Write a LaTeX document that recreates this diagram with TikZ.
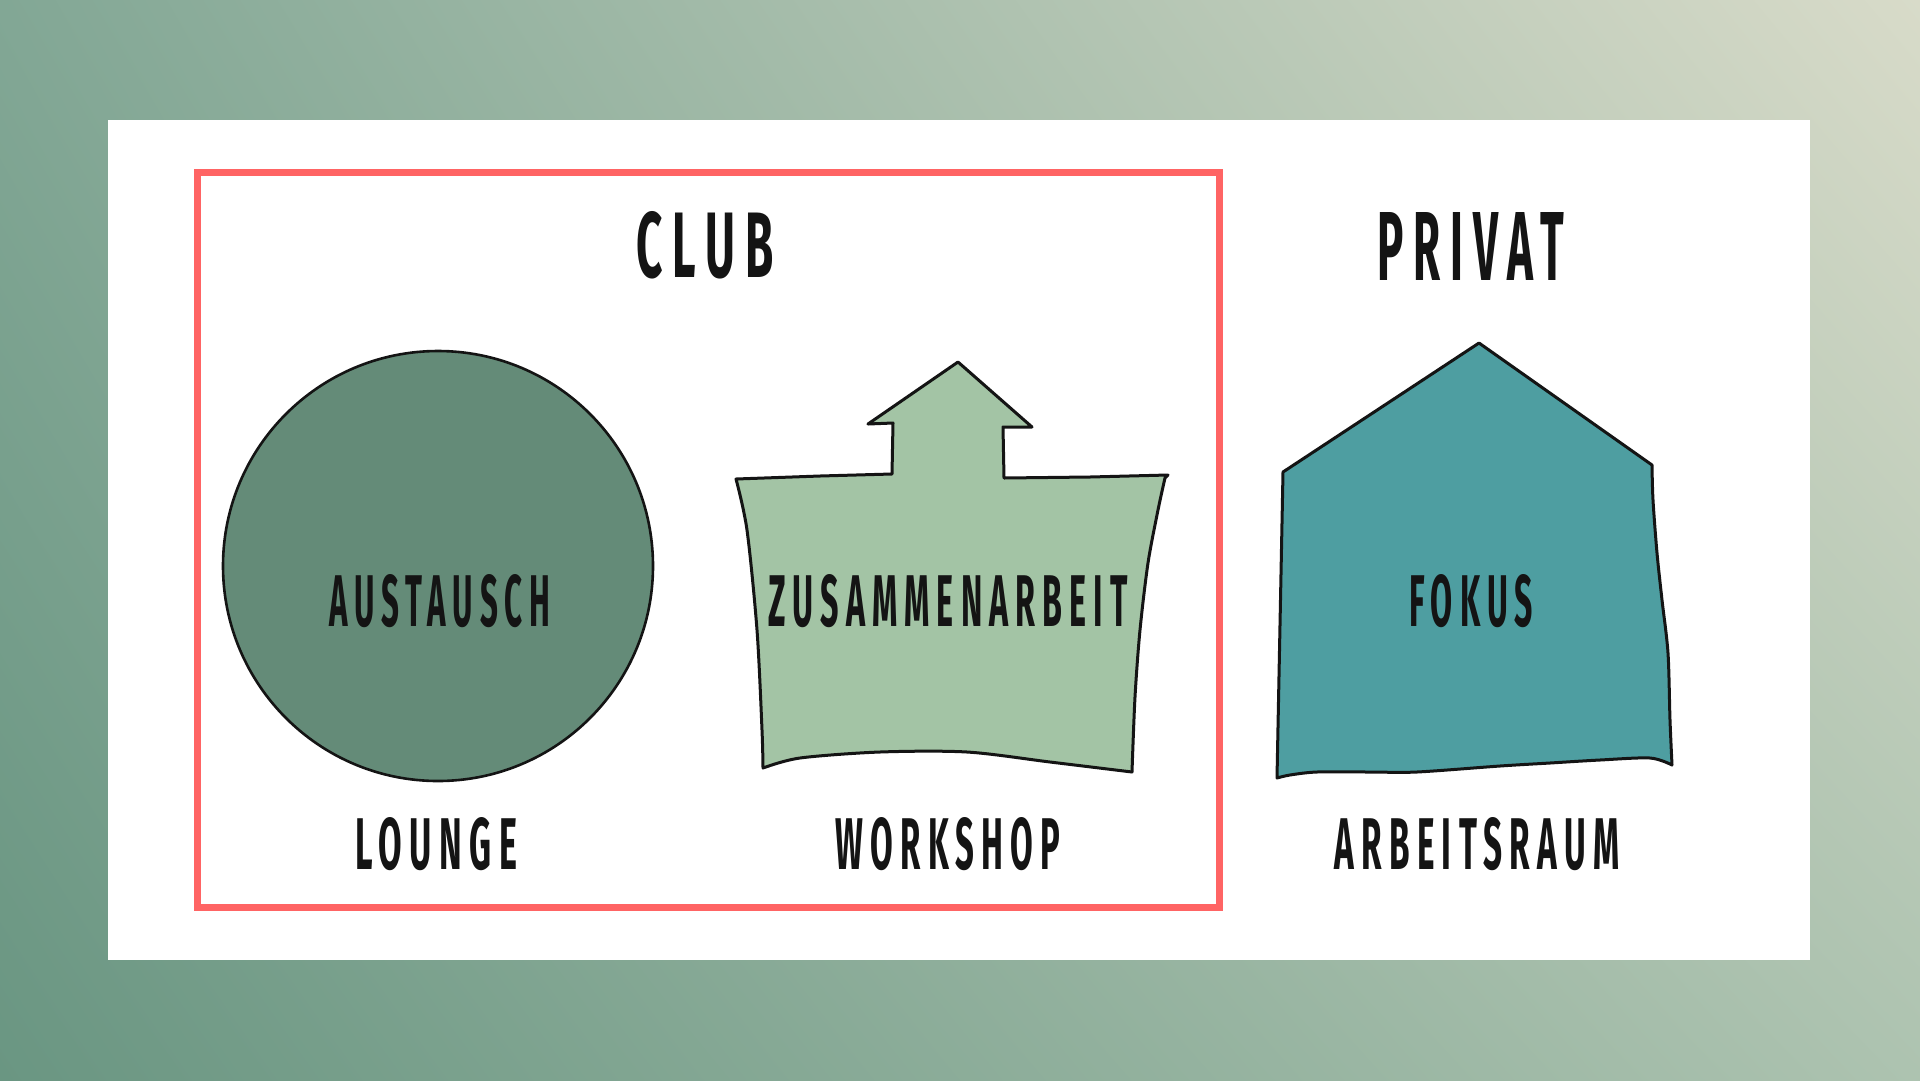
\documentclass[tikz,border=0pt]{standalone}
\usepackage{fontspec}
\usepackage{graphicx}
\usetikzlibrary{shadings}
\setmainfont{Fira Sans}
\newfontfamily\handfont{Fira Sans}[LetterSpace=22]
\definecolor{bgTL}{HTML}{82A795}
\definecolor{bgTR}{HTML}{D8DBC9}
\definecolor{bgBL}{HTML}{6A9682}
\definecolor{bgBR}{HTML}{ADC3B0}
\definecolor{clubred}{HTML}{FF6464}
\definecolor{loungefill}{HTML}{648B78}
\definecolor{workfill}{HTML}{A3C4A5}
\definecolor{fokusfill}{HTML}{4E9EA1}
\definecolor{ink}{HTML}{141414}
\newcommand{\hw}[3]{\resizebox{#1pt}{#2pt}{\handfont\bfseries #3}}
\tikzset{
  txt/.style={inner sep=0pt, outer sep=0pt, text=ink},
  shapeline/.style={draw=ink, line width=3pt, line join=round, line cap=round},
}
\begin{document}
\begin{tikzpicture}[x=1pt,y=-1pt]
\useasboundingbox (0,0) rectangle (1920,1080);
% background
\shade[upper left=bgTL, upper right=bgTR, lower left=bgBL, lower right=bgBR] (0,0) rectangle (1920,1080);
% white panel
\fill[white] (108,120) rectangle (1810,960);
% club frame
\node[draw=clubred, line width=7pt, minimum width=1022pt, minimum height=735pt, inner sep=0pt] (club) at (708,539.5) {};
% lounge circle
\node[circle, shapeline, fill=loungefill, line width=2.6pt, minimum size=430pt, inner sep=0pt] (lounge) at (438,566) {};
% workshop shape
\filldraw[shapeline, fill=workfill]
  (736,479) -- (820,476) -- (892,474) -- (893,423) -- (868,424) -- (958,362) -- (1032,427) -- (1003,427) -- (1004,478) -- (1090,477) -- (1168,475)
  -- plot[smooth] coordinates {(1165,478) (1158,510) (1148,563) (1140,630) (1135,697) (1132,772)}
  -- plot[smooth] coordinates {(1132,772) (1050,762) (967,752) (880,752) (800,758) (763,768)}
  -- plot[smooth] coordinates {(763,768) (762,730) (757,630) (747,530) (736,479)}
  -- cycle;
% fokus shape
\filldraw[shapeline, fill=fokusfill]
  (1283,472) -- (1479,343) -- (1652,465)
  -- plot[smooth] coordinates {(1652,465) (1653,500) (1657,553) (1662,600) (1668,653) (1670,720) (1672,765)}
  -- plot[smooth] coordinates {(1672,765) (1650,758) (1600,760) (1550,763) (1500,766) (1417,772) (1370,772) (1317,772) (1290,775) (1277,778)}
  -- (1283,472) -- cycle;
% titles
\node[txt] (tclub) at (705,245) {\hw{137}{66}{CLUB}};
\node[txt] (tprivat) at (1471,246) {\hw{186}{68}{PRIVAT}};
% inner labels
\node[txt] (taus) at (440,601) {\hw{221}{52}{AUSTAUSCH}};
\node[txt] (tzus) at (948,601) {\hw{359}{52}{ZUSAMMENARBEIT}};
\node[txt] (tfok) at (1471,601) {\hw{124}{52}{FOKUS}};
% bottom labels
\node[txt] (tlounge) at (436,844) {\hw{162}{52}{LOUNGE}};
\node[txt] (twork) at (948,844) {\hw{225}{52}{WORKSHOP}};
\node[txt] (tarb) at (1477,844) {\hw{285}{52}{ARBEITSRAUM}};
\end{tikzpicture}
\end{document}
